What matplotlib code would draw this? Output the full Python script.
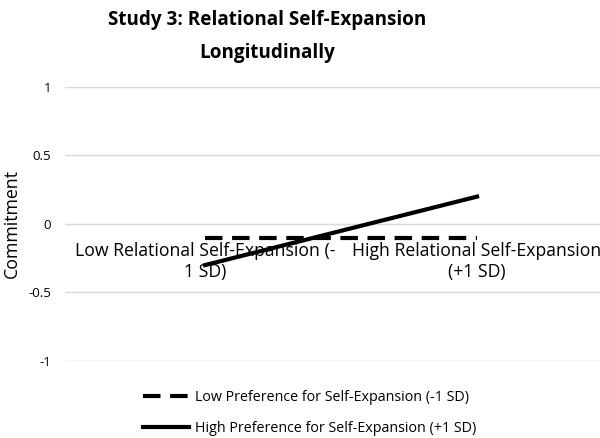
import matplotlib
matplotlib.use("Agg")
import matplotlib.pyplot as plt

categories = ["Low Relational Self-Expansion (-\n1 SD)", "High Relational Self-Expansion\n(+1 SD)"]
low_pref = [-0.1, -0.1]
high_pref = [-0.3, 0.2]
series_names = ["Low Preference for Self-Expansion (-1 SD)", "High Preference for Self-Expansion (+1 SD)"]
yticks = [-1, -0.5, 0, 0.5, 1]
ytick_labels = ["-1", "-0.5", "0", "0.5", "1"]

plt.rcParams['font.family'] = ['Open Sans', 'DejaVu Sans']

fig = plt.figure(figsize=(6, 4.38), dpi=100)
ax = fig.add_axes([0.1083, 0.1758, 0.8917, 0.6256])
ax.spines['bottom'].set_position(('data', 0))
for s in ax.spines.values():
    s.set_visible(False)
x = [1, 2]
ax.plot(x, low_pref, color='black', lw=3, linestyle=(0, (4.2, 2.3)), label=series_names[0], zorder=3)
ax.plot(x, high_pref, color='black', lw=3, label=series_names[1], zorder=3)
ax.set_xlim(0.485, 2.452)
ax.set_ylim(-1, 1)
ax.set_yticks(yticks)
ax.set_yticklabels(ytick_labels, fontsize=9.5)
ax.set_xticks(x)
ax.set_xticklabels(categories, fontsize=12.7, linespacing=1.2)
ax.tick_params(axis='both', length=0)
ax.tick_params(axis='x', pad=13)
ax.tick_params(axis='y', pad=10)
ax.grid(axis='y', color='#d9d9d9', lw=1)
ax.set_axisbelow(True)
ax.set_ylabel("Commitment", fontsize=12.8)
ax.yaxis.set_label_coords(-0.082, 0.5)
fig.suptitle("Study 3: Relational Self-Expansion\nLongitudinally", fontsize=13.6, fontweight='bold',
             y=0.978, x=0.445, linespacing=1.9)
fig.legend(loc='center', bbox_to_anchor=(0.516, 0.057), ncol=1, frameon=False, fontsize=10.3,
           handlelength=3.2, handletextpad=0.45, labelspacing=1.15)
fig.savefig("out.png", dpi=100)
